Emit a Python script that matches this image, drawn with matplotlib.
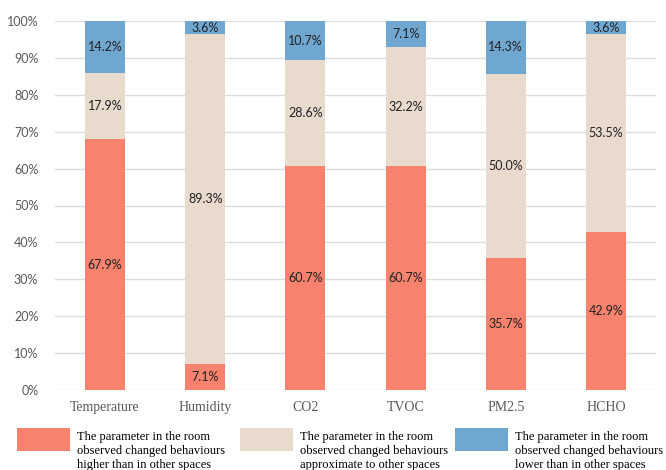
import numpy as np
import matplotlib

matplotlib.use("Agg")
import matplotlib.pyplot as plt
from matplotlib.patches import Rectangle
from matplotlib.legend_handler import HandlerPatch

# 数据（百分比）
categories = ["Temperature", "Humidity", "CO2", "TVOC", "PM2.5", "HCHO"]
higher = [67.9, 7.1, 60.7, 60.7, 35.7, 42.9]
approx = [17.9, 89.3, 28.6, 32.2, 50.0, 53.5]
lower = [14.2, 3.6, 10.7, 7.1, 14.3, 3.6]
series_labels = [
    "The parameter in the room\nobserved changed behaviours\nhigher than in other spaces",
    "The parameter in the room\nobserved changed behaviours\napproximate to other spaces",
    "The parameter in the room\nobserved changed behaviours\nlower than in other spaces",
]
yticks = [0, 10, 20, 30, 40, 50, 60, 70, 80, 90, 100]

colors = ["#F7826E", "#E9DACE", "#70A7D1"]
label_font = "Lato"
serif = ["Liberation Serif", "DejaVu Serif"]

fig = plt.figure(figsize=(6.66, 4.70), dpi=100)
ax = fig.add_axes([55 / 666, 1 - 390 / 470, 601 / 666, 369 / 470])

x = np.arange(len(categories))
bottom = np.zeros(len(categories))
handles = []
for vals, c in zip([higher, approx, lower], colors):
    vals = np.array(vals)
    bars = ax.bar(x, vals, width=0.4, bottom=bottom, color=c, zorder=2)
    handles.append(bars[0])
    for xi, b, v in zip(x, bottom, vals):
        ax.text(xi, b + v / 2, f"{v:.1f}%", ha="center", va="center",
                fontsize=9, family=label_font, color="#222222", zorder=3)
    bottom = bottom + vals

ax.set_xlim(-0.5, len(categories) - 0.5)
ax.set_ylim(0, 100)
ax.set_yticks(yticks)
ax.set_yticklabels([f"{t}%" for t in yticks], family=label_font, fontsize=9, color="#595959")
ax.set_xticks(x)
ax.set_xticklabels(categories, family=serif, fontsize=10, color="#595959")
ax.tick_params(axis="both", length=0)
ax.tick_params(axis="y", pad=12)
ax.tick_params(axis="x", pad=8)
ax.grid(axis="y", color="#DDDDDD", linewidth=1, zorder=0)
for s in ax.spines.values():
    s.set_visible(False)


# 图例色块贴在文字顶部
def top_patch(legend, orig_handle, xdescent, ydescent, width, height, fontsize):
    h = 23 * 72 / 100.0
    lift = 9 * 72 / 100.0
    return Rectangle((-xdescent, -ydescent + height - h + lift), width, h)


leg_x = [17 / 666, 240 / 666, 455 / 666]
for h, lab, lx in zip(handles, series_labels, leg_x):
    leg = fig.legend(handles=[h], labels=[lab], loc="upper left",
                     bbox_to_anchor=(lx, 1 - 431 / 470), frameon=False,
                     borderpad=0, borderaxespad=0, handlelength=4.24,
                     handleheight=3.3, handletextpad=0.56,
                     handler_map={type(h): HandlerPatch(patch_func=top_patch)},
                     prop={"family": serif, "size": 9})

fig.savefig("out.png", dpi=100)
